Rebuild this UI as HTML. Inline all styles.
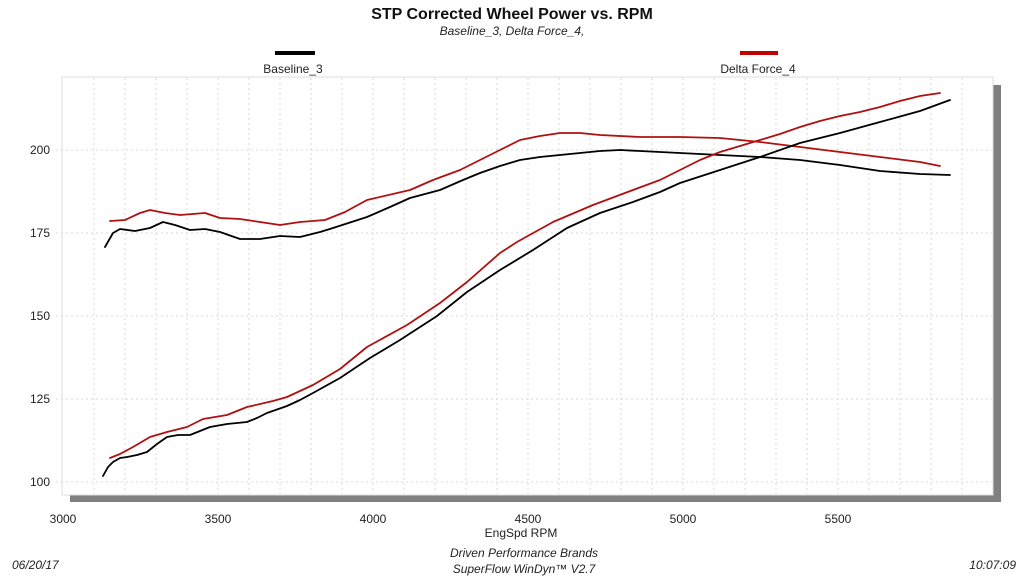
<!DOCTYPE html>
<html><head><meta charset="utf-8"><style>
body{margin:0;background:#fff;width:1024px;height:576px;overflow:hidden;font-family:"Liberation Sans",Arial,sans-serif}
</style></head><body>
<svg width="1024" height="576" xmlns="http://www.w3.org/2000/svg" font-family="Liberation Sans, Arial, sans-serif">
<rect x="0" y="0" width="1024" height="576" fill="#fff"/>
<text x="512" y="19" text-anchor="middle" font-size="16" font-weight="bold" fill="#111">STP Corrected Wheel Power vs. RPM</text>
<text x="512" y="35" text-anchor="middle" font-size="12" font-style="italic" fill="#222">Baseline_3, Delta Force_4,</text>
<line x1="275" y1="53" x2="315" y2="53" stroke="#000" stroke-width="4"/>
<text x="293" y="73" text-anchor="middle" font-size="12" fill="#222">Baseline_3</text>
<line x1="740" y1="53" x2="778" y2="53" stroke="#c00000" stroke-width="4"/>
<text x="758" y="73" text-anchor="middle" font-size="12" fill="#222">Delta Force_4</text>
<rect x="993" y="85" width="8" height="417" fill="#808080"/>
<rect x="70" y="495" width="931" height="7" fill="#808080"/>
<rect x="62" y="77" width="931" height="418" fill="#fff" stroke="#ddd" stroke-width="1"/>
<g stroke="#dadada" stroke-width="1" stroke-dasharray="2,3">
<line x1="94" y1="78" x2="94" y2="494"/><line x1="125" y1="78" x2="125" y2="494"/><line x1="156" y1="78" x2="156" y2="494"/><line x1="187" y1="78" x2="187" y2="494"/><line x1="218" y1="78" x2="218" y2="494"/><line x1="249" y1="78" x2="249" y2="494"/><line x1="280" y1="78" x2="280" y2="494"/><line x1="311" y1="78" x2="311" y2="494"/><line x1="342" y1="78" x2="342" y2="494"/><line x1="373" y1="78" x2="373" y2="494"/><line x1="404" y1="78" x2="404" y2="494"/><line x1="435" y1="78" x2="435" y2="494"/><line x1="466" y1="78" x2="466" y2="494"/><line x1="497" y1="78" x2="497" y2="494"/><line x1="528" y1="78" x2="528" y2="494"/><line x1="559" y1="78" x2="559" y2="494"/><line x1="590" y1="78" x2="590" y2="494"/><line x1="621" y1="78" x2="621" y2="494"/><line x1="652" y1="78" x2="652" y2="494"/><line x1="683" y1="78" x2="683" y2="494"/><line x1="714" y1="78" x2="714" y2="494"/><line x1="745" y1="78" x2="745" y2="494"/><line x1="776" y1="78" x2="776" y2="494"/><line x1="807" y1="78" x2="807" y2="494"/><line x1="838" y1="78" x2="838" y2="494"/><line x1="869" y1="78" x2="869" y2="494"/><line x1="900" y1="78" x2="900" y2="494"/><line x1="931" y1="78" x2="931" y2="494"/><line x1="962" y1="78" x2="962" y2="494"/>
<line x1="56" y1="150" x2="992" y2="150"/><line x1="56" y1="233" x2="992" y2="233"/><line x1="56" y1="316" x2="992" y2="316"/><line x1="56" y1="399" x2="992" y2="399"/><line x1="56" y1="482" x2="992" y2="482"/>
</g>
<g font-size="12" fill="#222" text-anchor="end">
<text x="50" y="154">200</text><text x="50" y="237">175</text><text x="50" y="320">150</text><text x="50" y="403">125</text><text x="50" y="486">100</text>
</g>
<g font-size="12" fill="#222" text-anchor="middle">
<text x="63" y="523">3000</text><text x="218" y="523">3500</text><text x="373" y="523">4000</text><text x="528" y="523">4500</text><text x="683" y="523">5000</text><text x="838" y="523">5500</text>
</g>
<text x="521" y="537" text-anchor="middle" font-size="12" fill="#222">EngSpd  RPM</text>
<text x="524" y="557" text-anchor="middle" font-size="12" font-style="italic" fill="#222">Driven Performance Brands</text>
<text x="524" y="573" text-anchor="middle" font-size="12" font-style="italic" fill="#222">SuperFlow WinDyn™  V2.7</text>
<text x="12" y="569" font-size="12" font-style="italic" fill="#222">06/20/17</text>
<text x="1016" y="569" text-anchor="end" font-size="12" font-style="italic" fill="#222">10:07:09</text>
<g fill="none" stroke-width="1.8" stroke-linejoin="round" stroke-linecap="round">
<polyline stroke="#000" points="105,247 113,233 120,229 135,231 150,228 163,222 175,225 190,230 205,229 220,232 240,239 260,239 280,236 300,237 320,232 333,228 367,217 390,207 410,198 440,190 463,180 480,173 500,166 520,160 540,157 560,155 580,153 600,151 620,150 640,151 680,153 720,155 760,157 800,160 840,165 880,171 920,174 950,175"/>
<polyline stroke="#b01010" points="110,221 125,220 140,213 150,210 165,213 180,215 205,213 220,218 240,219 260,222 280,225 300,222 325,220 345,212 367,200 410,190 433,180 460,170 480,160 500,150 520,140 540,136 560,133 580,133 600,135 640,137 680,137 720,138 740,140 760,142 800,147 840,152 880,157 920,162 940,166"/>
<polyline stroke="#000" points="103,476 108,467 113,462 120,458 127,457 137,455 147,452 157,444 167,437 178,435 190,435 200,431 210,427 227,424 247,422 257,418 267,413 287,406 300,400 313,393 340,378 370,358 400,340 437,316 467,292 500,270 533,250 567,228 600,213 633,202 660,192 680,183 720,170 760,157 800,143 840,133 880,122 920,111 950,100"/>
<polyline stroke="#b01010" points="110,458 120,454 133,447 150,437 167,432 187,427 203,419 227,415 247,407 273,401 287,397 313,385 340,369 367,347 407,325 440,303 467,282 500,253 517,242 553,222 593,205 633,190 660,180 700,160 720,152 760,140 780,134 800,127 820,121 840,116 860,112 880,107 900,101 920,96 940,93"/>
</g>
</svg>
</body></html>
